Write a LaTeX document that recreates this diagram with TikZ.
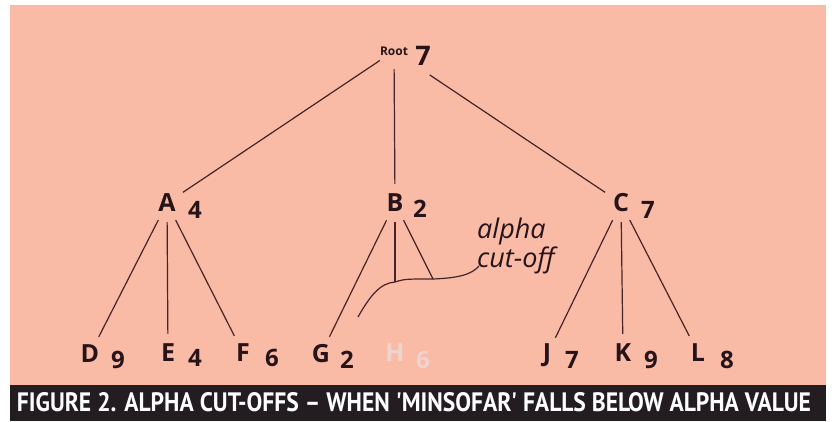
\documentclass[tikz,border=0pt]{standalone}
\usepackage{fontspec}
\setmainfont{Open Sans}
\newfontfamily\capfont{PT Sans}
\usepackage{graphicx}
\definecolor{bgpink}{RGB}{249,187,165}
\definecolor{band}{RGB}{35,28,32}
\definecolor{ink}{RGB}{38,20,26}
\definecolor{wire}{RGB}{70,35,40}
\definecolor{ghost}{RGB}{238,212,206}
\begin{document}
\begin{tikzpicture}[x=1pt,y=-1pt,
  letter/.style={circle, minimum size=38pt, inner sep=0pt, font=\fontsize{25}{25}\selectfont\bfseries, text=ink},
  val/.style={inner sep=0pt, font=\fontsize{24}{24}\selectfont\bfseries, text=ink},
  link/.style={draw=wire, line width=1.2pt}]
\useasboundingbox (0,0) rectangle (832,421);
\fill[white] (0,0) rectangle (832,421);
\fill[bgpink] (10,5) rectangle (826,385);
\fill[band] (10,385) rectangle (826,421);
\node[inner sep=0pt, text=white, font=\capfont\bfseries] (cap) at (414,402.5)
  {\resizebox{794pt}{19pt}{FIGURE 2. ALPHA CUT-OFFS – WHEN \char"27 MINSOFAR\char"27\ FALLS BELOW ALPHA VALUE}};

% root
\node[inner sep=0pt, font=\fontsize{12}{12}\selectfont\bfseries, text=ink] (root) at (394,51) {Root};
\node[val, font=\fontsize{27}{27}\selectfont\bfseries] (vroot) at (423,56) {7};

% level 1
\node[letter] (A) at (167,203) {A};
\node[val] (vA) at (195,210) {4};
\node[letter] (B) at (395,203) {B};
\node[val] (vB) at (420,209) {2};
\node[letter] (C) at (621,203) {C};
\node[val] (vC) at (648,210) {7};

% leaves
\node[letter] (D) at (90,354) {D};
\node[val] (vD) at (118,360) {9};
\node[letter] (E) at (168,353) {E};
\node[val] (vE) at (195,358) {4};
\node[letter] (F) at (243,353) {F};
\node[val] (vF) at (272,358) {6};
\node[letter] (G) at (321,354) {G};
\node[val] (vG) at (347,360) {2};
\node[letter, text=ghost] (H) at (395,353) {H};
\node[val, text=ghost] (vH) at (423,360) {6};
\node[letter] (J) at (547,355) {J};
\node[val] (vJ) at (572,360) {7};
\node[letter] (K) at (623,353) {K};
\node[val] (vK) at (651,360) {9};
\node[letter] (L) at (698,353) {L};
\node[val] (vL) at (727,360) {8};

% edges from root
\draw[link, shorten <=17pt] (root.center) -- (A);
\draw[link, shorten <=18pt] (root.center) -- (B);
\draw[link, shorten <=43pt] (root.center) -- (C);

% edges from A
\draw[link] (A) -- (D);
\draw[link] (A) -- (E);
\draw[link] (A) -- (F);

% edges from B
\draw[link] (B) -- (G);
\coordinate (hcut) at (395,282);
\coordinate (icut) at (433,279);
\draw[link] (B) -- (hcut);
\draw[link] (B) -- (icut);

% edges from C
\draw[link] (C) -- (J);
\draw[link] (C) -- (K);
\draw[link] (C) -- (L);

% alpha cut-off annotation
\node[anchor=west, inner sep=0pt, align=left, text=ink,
      font=\fontsize{27}{21}\selectfont\itshape] (note) at (477,246) {alpha\\cut-off};
\coordinate (cs) at (358,317);
\coordinate (ce) at (479,266);
\draw[link] (cs) .. controls (370,296) and (380,283) .. (hcut)
  .. controls (405,279) .. (icut)
  .. controls (460,278) and (472,274) .. (ce);
\end{tikzpicture}
\end{document}
